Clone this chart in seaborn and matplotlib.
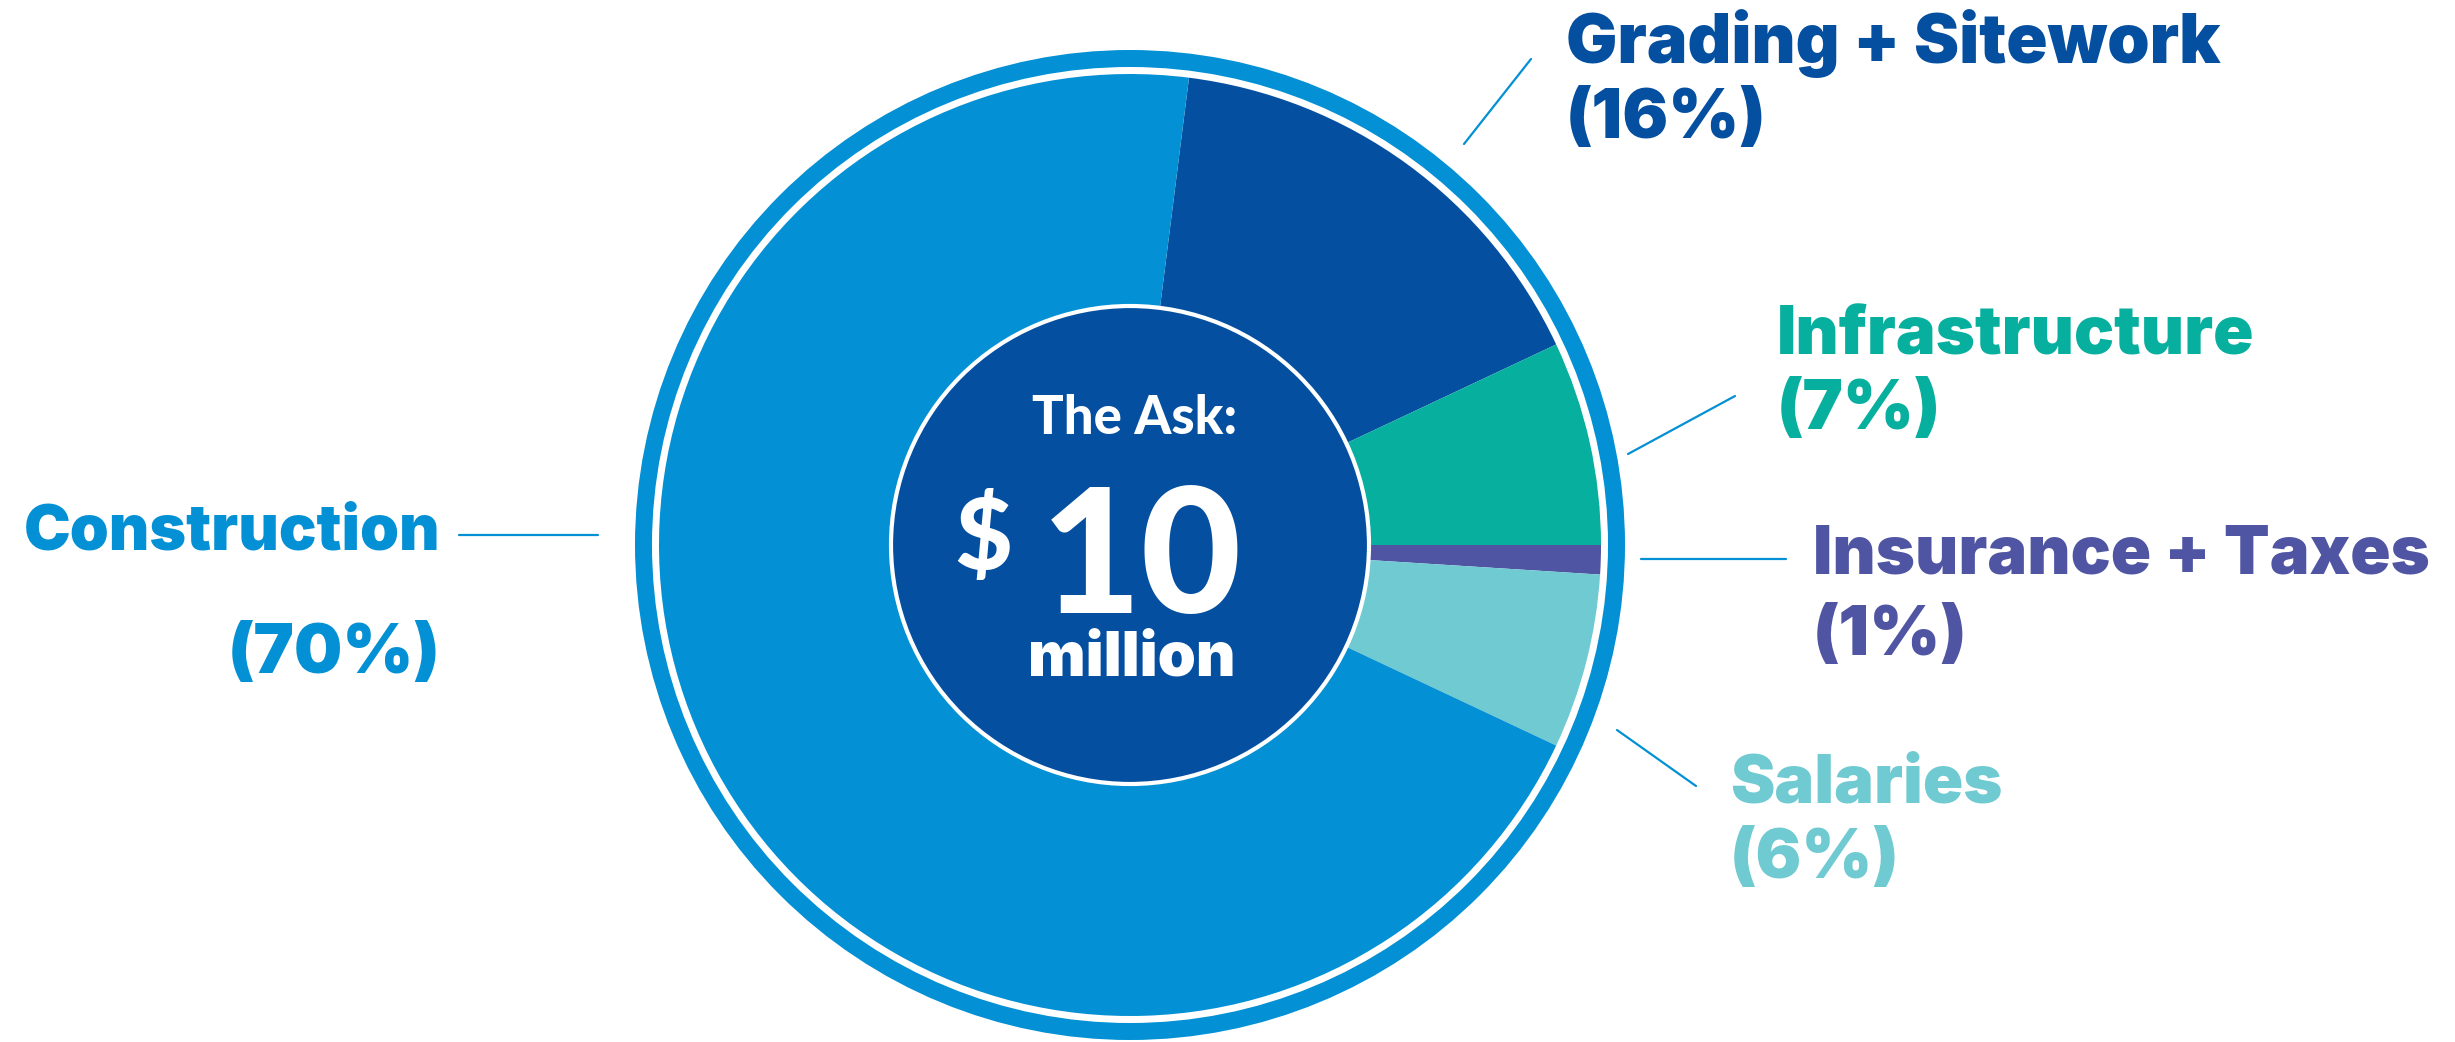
import matplotlib.pyplot as plt
from matplotlib.patches import Circle
import seaborn as sns

# budget split, clockwise starting from the top slice
categories = ["Grading + Sitework", "Infrastructure", "Insurance + Taxes", "Salaries", "Construction"]
shares = [16, 7, 1, 6, 70]
slice_colors = ["#044FA0", "#07AF9E", "#4F55A3", "#6FCAD1", "#0390D4"]
center_title = "The Ask:"
center_amount = "10"
center_unit = "million"

sns.set_theme(style="white")
plt.rcParams["font.family"] = ["Inter", "Lato", "DejaVu Sans"]

W, H = 2455, 1042
fig = plt.figure(figsize=(W / 100, H / 100), dpi=100)
ax = fig.add_axes([0, 0, 1, 1])

cx, cy = 1130, H - 545

# outer ring
ax.add_patch(Circle((cx, cy), 495, facecolor="#0390D4", edgecolor="none"))
ax.add_patch(Circle((cx, cy), 478, facecolor="white", edgecolor="none"))

start = 360 * (shares[0] + shares[1]) / sum(shares)
ax.pie(shares, colors=slice_colors, radius=471, center=(cx, cy), startangle=start,
       counterclock=False, wedgeprops=dict(linewidth=0))

# inner disc
ax.add_patch(Circle((cx, cy), 239, facecolor="#044FA0", edgecolor="white", linewidth=3, zorder=3))
ax.text(1135, H - 419, center_title, ha="center", va="center", color="white",
        fontsize=38, fontweight="black", family="Lato", zorder=4)
ax.text(1141, H - 562, center_amount, ha="center", va="center", color="white",
        fontsize=125, fontweight="black", family="Lato", zorder=4)
ax.text(983, H - 540, "$", ha="center", va="center", color="white",
        fontsize=72, fontweight="black", family="Lato", zorder=4)
ax.text(1132, H - 660, center_unit, ha="center", va="center", color="white",
        fontsize=44, fontweight="black", zorder=4)

# labels: (x, y line1, y line2, ha, font size, leader line)
label_pos = {
    "Grading + Sitework": (1566, 44, 120, "left", 49, [(1464, 144), (1531, 59)]),
    "Infrastructure": (1777, 337, 411, "left", 48, [(1628, 454), (1735, 396)]),
    "Insurance + Taxes": (1813, 556, 637, "left", 48, [(1641, 559), (1786, 559)]),
    "Salaries": (1730, 785, 860, "left", 48, [(1617, 730), (1696, 786)]),
    "Construction": (440, 533, 655, "right", 45, [(459, 535), (598, 535)]),
}

for name, pct, col in zip(categories, shares, slice_colors):
    x, y1, y2, ha, fs, line = label_pos[name]
    ax.text(x, H - y1, name, ha=ha, va="center", color=col, fontsize=fs, fontweight="black")
    ax.text(x, H - y2, f"({pct}%)", ha=ha, va="center", color=col, fontsize=49, fontweight="black")
    (x0, y0), (x1, yy1) = line
    ax.plot([x0, x1], [H - y0, H - yy1], color="#0390D4", linewidth=1.6)

ax.set_xlim(0, W)
ax.set_ylim(0, H)
ax.set_aspect("equal")
ax.axis("off")

fig.savefig("out.png", dpi=100, facecolor="white")
